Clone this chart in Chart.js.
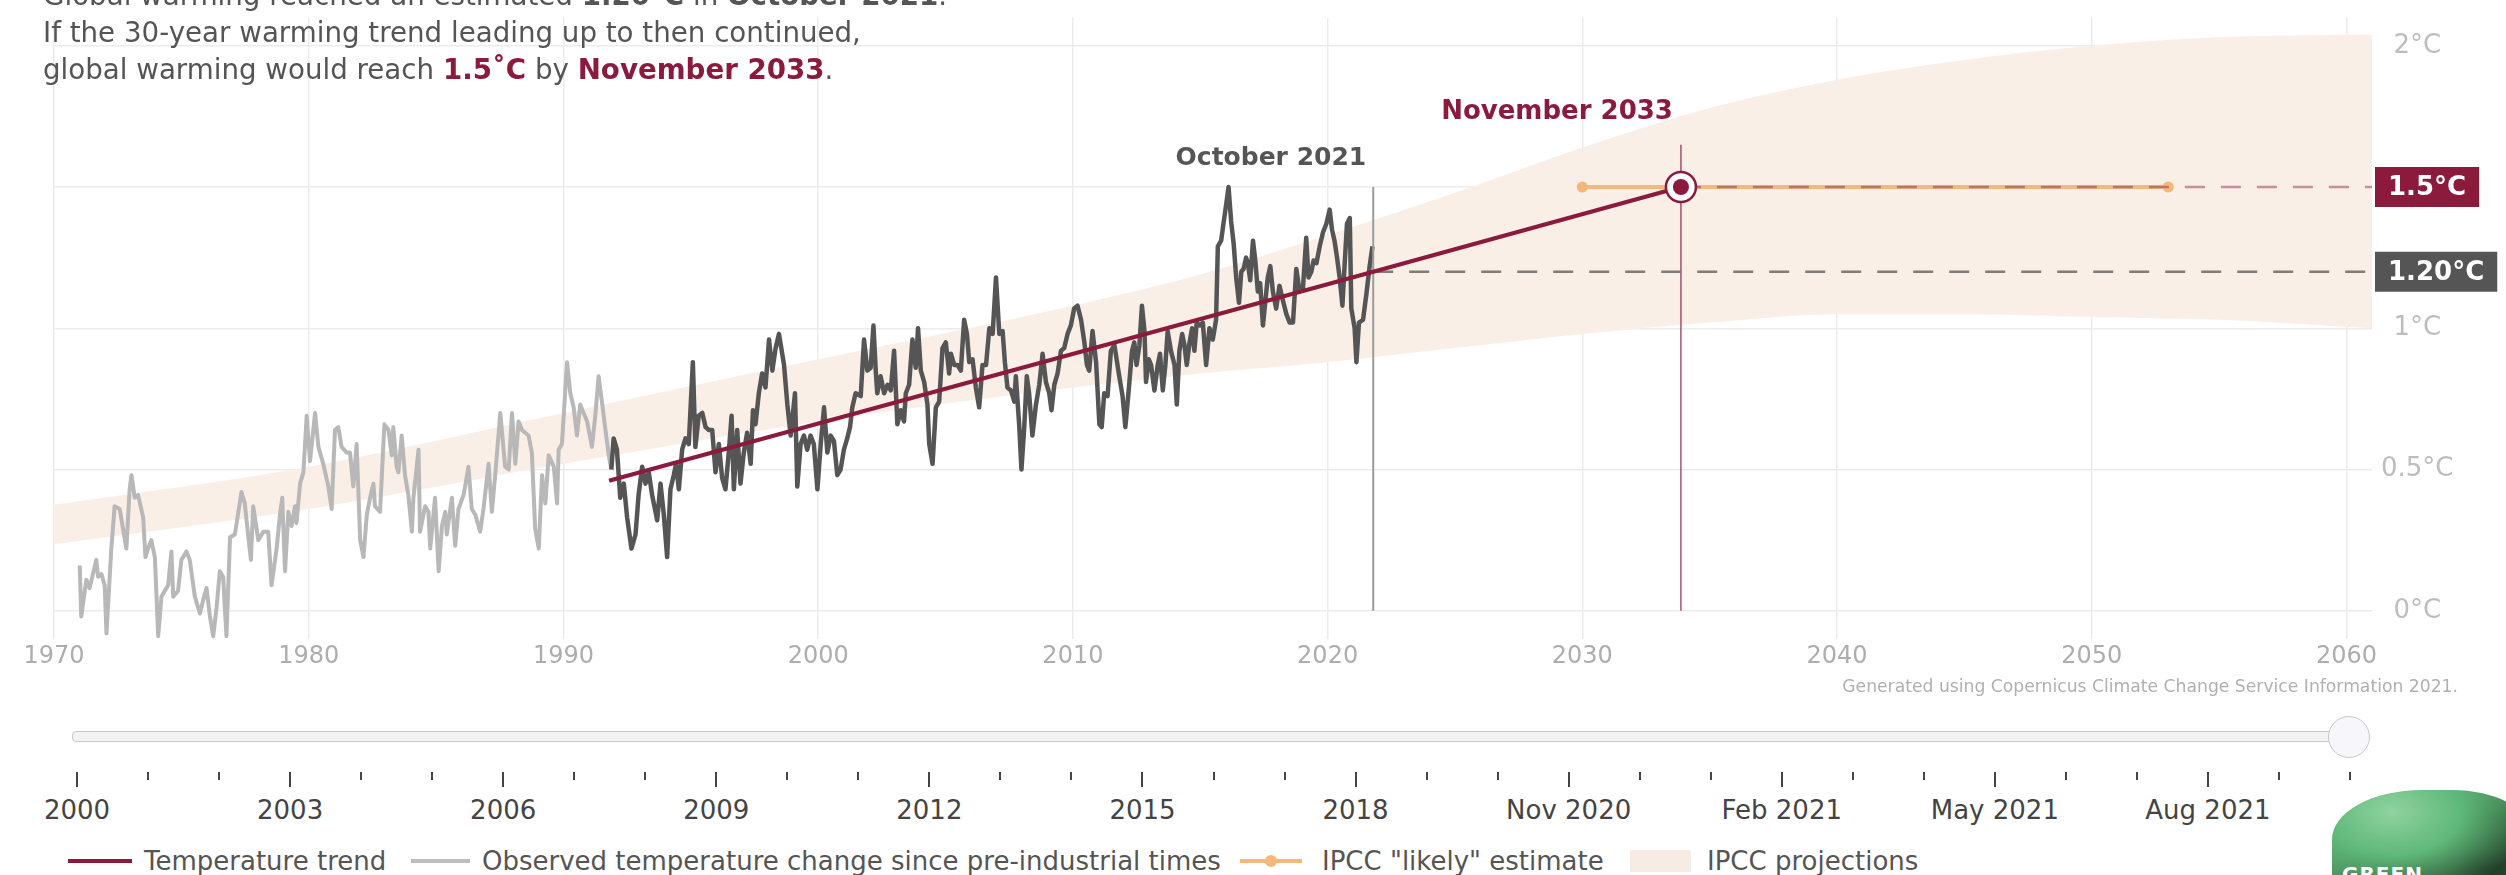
<!DOCTYPE html>
<html>
<head>
<meta charset="utf-8">
<script src="https://cdn.jsdelivr.net/npm/chart.js@4.4.1/dist/chart.umd.min.js"></script>
<style>
html,body{margin:0;padding:0;background:#fff;width:2506px;height:875px;overflow:hidden;font-family:"DejaVu Sans",sans-serif;}
#wrap{position:relative;width:2506px;height:875px;overflow:hidden;}
#c{position:absolute;left:0;top:0;}
.title{position:absolute;left:43px;top:-23px;font-size:27.7px;line-height:37px;color:#555;white-space:nowrap;}
.title b{color:#555;}
.title b.m{color:#8b1a3d;}
.credit{position:absolute;right:48px;top:676px;font-size:17.2px;line-height:21px;color:#b0b0b0;white-space:nowrap;}
.track{position:absolute;left:72px;top:731px;width:2278px;height:9px;background:#f3f3f3;border:1.5px solid #c9c9c9;border-radius:4px;}
.knob{position:absolute;left:2328px;top:716px;width:40px;height:40px;border-radius:50%;background:#f7f7fb;border:1.5px solid #c9c9c9;}
.tick{position:absolute;width:2px;background:#444;}
.slab{position:absolute;top:795px;font-size:26px;line-height:30px;color:#444;white-space:nowrap;transform:translateX(-50%);}
.leg{position:absolute;font-size:26px;line-height:30px;top:846px;color:#555;white-space:nowrap;}
.lline{position:absolute;height:4px;top:859px;}
.logo{position:absolute;left:2332px;top:790px;width:200px;height:110px;border-radius:45% 40% 0 0;
 background:radial-gradient(ellipse at 30% 20%, #8fd3a0 0%, #5fb879 35%, rgba(60,120,70,0) 70%),
            radial-gradient(ellipse at 75% 70%, #1f3b26 0%, #2f5a36 45%, #4f9a62 80%);}
.logo span{position:absolute;left:10px;top:72px;font-weight:bold;font-size:20px;color:#fff;letter-spacing:1px;}
</style>
</head>
<body>
<div id="wrap">
  <canvas id="c" width="2506" height="710"></canvas>
  <div class="title">
    <div>Global warming reached an estimated <b>1.20°C</b> in <b>October 2021</b>.</div>
    <div>If the 30-year warming trend leading up to then continued,</div>
    <div>global warming would reach <b class="m">1.5˚C</b> by <b class="m">November 2033</b>.</div>
  </div>
  <div class="credit">Generated using Copernicus Climate Change Service Information 2021.</div>
  <div class="track"></div>
  <div id="slider"></div>
  <div class="knob"></div>
  <div id="legend"></div>
  <div class="logo"><span>GREEN ALLIANCE</span></div>
</div>
<script>
// ---------- DATA ----------
const xTickYears = [1970,1980,1990,2000,2010,2020,2030,2040,2050,2060];
const yTickTemps = [0,0.5,1,1.5,2];
const xRange = [1970, 2061];
const yRange = [-0.1, 2.1];

// Observed temperature change (monthly, earlier part shown in light grey)
const obsEarlyYears = [1971.01,1971.07,1971.27,1971.40,1971.66,1971.73,1971.86,1971.99,1972.06,1972.25,1972.38,1972.58,1972.71,1972.84,1972.97,1973.04,1973.17,1973.30,1973.50,1973.59,1973.69,1973.82,1973.96,1974.09,1974.22,1974.48,1974.61,1974.68,1974.87,1975.00,1975.20,1975.33,1975.53,1975.73,1975.92,1975.99,1976.12,1976.25,1976.38,1976.51,1976.64,1976.77,1976.91,1977.10,1977.36,1977.49,1977.63,1977.73,1977.82,1978.02,1978.22,1978.41,1978.54,1978.74,1978.87,1978.96,1979.07,1979.20,1979.33,1979.46,1979.52,1979.66,1979.79,1979.92,1980.05,1980.25,1980.38,1980.57,1980.77,1980.90,1981.03,1981.16,1981.29,1981.49,1981.62,1981.75,1981.88,1982.02,1982.15,1982.28,1982.41,1982.54,1982.60,1982.80,1982.97,1983.13,1983.26,1983.32,1983.45,1983.52,1983.65,1983.78,1983.91,1984.05,1984.11,1984.31,1984.37,1984.57,1984.70,1984.77,1984.96,1985.10,1985.23,1985.36,1985.42,1985.62,1985.75,1985.88,1986.08,1986.14,1986.27,1986.40,1986.54,1986.73,1986.86,1987.06,1987.19,1987.32,1987.52,1987.71,1987.85,1987.98,1988.11,1988.24,1988.37,1988.50,1988.63,1988.76,1988.89,1989.03,1989.16,1989.29,1989.42,1989.62,1989.75,1989.81,1989.94,1990.14,1990.27,1990.40,1990.53,1990.66,1990.79,1990.93,1991.12,1991.25,1991.38,1991.51,1991.65,1991.78,1991.88];
const obsEarlyTemps = [0.16,-0.02,0.11,0.08,0.18,0.12,0.13,0.09,-0.08,0.22,0.37,0.36,0.29,0.22,0.43,0.48,0.40,0.41,0.33,0.19,0.22,0.25,0.19,-0.09,0.05,0.09,0.21,0.05,0.07,0.18,0.21,0.18,0.05,-0.01,0.06,0.08,-0.02,-0.09,0.01,0.14,0.12,-0.09,0.26,0.27,0.42,0.38,0.26,0.18,0.37,0.25,0.28,0.28,0.09,0.22,0.34,0.40,0.14,0.35,0.30,0.37,0.31,0.45,0.49,0.69,0.53,0.70,0.58,0.52,0.44,0.36,0.64,0.65,0.58,0.56,0.56,0.44,0.59,0.25,0.19,0.34,0.40,0.45,0.37,0.35,0.66,0.64,0.55,0.65,0.51,0.49,0.62,0.48,0.41,0.28,0.40,0.57,0.28,0.37,0.35,0.22,0.40,0.14,0.30,0.35,0.27,0.40,0.23,0.36,0.41,0.44,0.51,0.36,0.34,0.28,0.36,0.52,0.35,0.48,0.70,0.51,0.50,0.70,0.52,0.67,0.64,0.63,0.62,0.56,0.29,0.22,0.48,0.38,0.55,0.51,0.38,0.57,0.59,0.88,0.77,0.72,0.62,0.73,0.70,0.67,0.58,0.69,0.83,0.74,0.64,0.55,0.50];

// Observed temperature change, last 30 years (dark grey)
const obsRecentYears = [1991.88,1991.97,1992.10,1992.23,1992.37,1992.50,1992.67,1992.83,1992.95,1993.09,1993.22,1993.35,1993.48,1993.68,1993.81,1993.94,1994.07,1994.20,1994.33,1994.42,1994.53,1994.66,1994.79,1994.92,1995.08,1995.18,1995.31,1995.45,1995.58,1995.71,1995.84,1995.97,1996.10,1996.23,1996.36,1996.49,1996.60,1996.69,1996.82,1996.95,1997.08,1997.21,1997.35,1997.44,1997.54,1997.67,1997.80,1997.93,1998.07,1998.20,1998.33,1998.46,1998.66,1998.79,1998.92,1999.09,1999.18,1999.31,1999.44,1999.57,1999.70,1999.83,1999.97,2000.10,2000.23,2000.36,2000.49,2000.62,2000.75,2000.88,2001.01,2001.14,2001.25,2001.34,2001.47,2001.67,2001.80,2001.93,2002.06,2002.17,2002.26,2002.32,2002.45,2002.59,2002.72,2002.85,2002.98,2003.11,2003.24,2003.37,2003.44,2003.57,2003.70,2003.83,2003.92,2004.03,2004.16,2004.29,2004.36,2004.49,2004.62,2004.75,2004.88,2005.01,2005.14,2005.21,2005.34,2005.47,2005.60,2005.73,2005.84,2005.93,2006.06,2006.19,2006.32,2006.45,2006.59,2006.72,2006.85,2006.98,2007.11,2007.24,2007.33,2007.43,2007.57,2007.70,2007.76,2007.89,2007.98,2008.09,2008.19,2008.28,2008.41,2008.55,2008.68,2008.81,2008.94,2009.07,2009.16,2009.27,2009.40,2009.53,2009.66,2009.79,2009.92,2010.05,2010.18,2010.32,2010.45,2010.55,2010.64,2010.77,2010.91,2011.04,2011.13,2011.23,2011.36,2011.49,2011.63,2011.82,2011.95,2012.06,2012.19,2012.32,2012.41,2012.50,2012.61,2012.71,2012.81,2012.87,2012.98,2013.07,2013.20,2013.33,2013.42,2013.53,2013.63,2013.72,2013.85,2013.99,2014.08,2014.18,2014.29,2014.38,2014.47,2014.58,2014.68,2014.77,2014.86,2014.97,2015.10,2015.23,2015.36,2015.49,2015.62,2015.69,2015.82,2015.91,2016.02,2016.11,2016.21,2016.31,2016.41,2016.52,2016.61,2016.70,2016.80,2016.87,2016.96,2017.07,2017.16,2017.26,2017.35,2017.46,2017.56,2017.65,2017.75,2017.85,2017.98,2018.11,2018.24,2018.38,2018.51,2018.64,2018.77,2018.90,2019.03,2019.16,2019.25,2019.36,2019.45,2019.56,2019.69,2019.82,2019.95,2020.08,2020.17,2020.27,2020.37,2020.47,2020.58,2020.67,2020.76,2020.87,2020.93,2021.06,2021.13,2021.23,2021.39,2021.52,2021.65,2021.76];
const obsRecentTemps = [0.50,0.61,0.57,0.40,0.45,0.33,0.22,0.27,0.41,0.51,0.45,0.49,0.41,0.32,0.45,0.34,0.19,0.43,0.48,0.52,0.43,0.57,0.61,0.59,0.88,0.58,0.69,0.70,0.65,0.64,0.64,0.49,0.59,0.47,0.43,0.56,0.69,0.43,0.64,0.45,0.56,0.63,0.52,0.71,0.66,0.77,0.84,0.79,0.96,0.85,0.93,0.98,0.87,0.73,0.62,0.77,0.44,0.59,0.62,0.57,0.62,0.59,0.43,0.59,0.72,0.56,0.62,0.60,0.48,0.50,0.57,0.61,0.65,0.72,0.77,0.76,0.96,0.85,0.86,1.01,0.85,0.77,0.83,0.77,0.80,0.78,0.92,0.66,0.71,0.67,0.77,0.80,0.96,0.86,1.00,0.85,0.81,0.73,0.59,0.52,0.72,0.74,0.93,0.95,0.84,0.91,0.87,0.87,0.85,1.03,0.98,0.88,0.89,0.79,0.72,0.87,0.87,1.00,0.98,1.18,0.98,0.99,0.88,0.79,0.78,0.74,0.83,0.66,0.50,0.65,0.83,0.77,0.62,0.73,0.80,0.91,0.81,0.77,0.71,0.80,0.84,0.92,0.93,0.98,1.01,1.07,1.08,1.03,0.95,0.87,0.85,0.99,0.88,0.66,0.65,0.77,0.76,0.92,0.94,0.83,0.76,0.65,0.78,0.92,0.95,0.87,0.94,1.08,0.99,0.81,0.89,0.87,0.78,0.87,0.91,0.78,0.87,0.99,0.92,0.87,0.73,0.92,0.98,0.94,0.87,0.95,1.00,0.92,1.02,1.01,1.02,0.87,1.00,0.96,1.03,1.29,1.31,1.37,1.44,1.50,1.38,1.30,1.18,1.09,1.20,1.21,1.25,1.23,1.17,1.31,1.24,1.13,1.16,1.01,1.10,1.18,1.22,1.13,1.07,1.15,1.10,1.05,1.02,1.02,1.21,1.13,1.14,1.32,1.18,1.20,1.24,1.23,1.29,1.34,1.37,1.42,1.35,1.31,1.25,1.18,1.08,1.23,1.37,1.39,1.07,1.00,0.88,1.02,1.03,1.12,1.22,1.29];

// 30-year linear warming trend, extended to 1.5°C
const trendYears = [1991.79, 2021.79, 2033.87];
const trendTemps = [0.46, 1.20, 1.50];

// Milestones: October 2021 (1.20°C) and November 2033 (1.5°C)
const milestoneYears = [2021.79, 2033.87];
const milestoneTemps = [1.20, 1.50];
const milestoneNames = ['October 2021', 'November 2033'];
const milestoneLineTops = [1.5, 1.65];
const milestoneLabelTemps = [1.60, 1.765];
const badgeTexts = ['1.20°C', '1.5°C'];

// IPCC "likely" estimate range for reaching 1.5°C
const likelyYears = [2030, 2053];
const likelyTemps = [1.5, 1.5];

// IPCC projections band
const bandYears = [1970,1980,1990,2000,2010,2015,2020,2025,2030,2035,2040,2045,2050,2055,2061];
const bandLow  = [0.235,0.36,0.52,0.67,0.79,0.84,0.88,0.93,0.98,1.02,1.05,1.05,1.04,1.03,1.00];
const bandHigh = [0.375,0.51,0.70,0.89,1.08,1.19,1.33,1.48,1.64,1.78,1.88,1.95,2.00,2.03,2.04];

// Time slider labels
const sliderLabels = ['2000','2003','2006','2009','2012','2015','2018','Nov 2020','Feb 2021','May 2021','Aug 2021'];

const legendItems = ['Temperature trend','Observed temperature change since pre-industrial times','IPCC "likely" estimate','IPCC projections'];

// ---------- STYLE ----------
const MAROON = '#8b1a3d', DARK = '#555555', LIGHT = '#b8b8b8', ORANGE = '#f4b87a', BAND = '#f9efe7', GRID = '#ececec';
const FONT = '"DejaVu Sans", sans-serif';

const pts = (xs, ys) => xs.map((x, i) => ({x, y: ys[i]}));

const datasets = [
  {data: pts(bandYears, bandLow), borderWidth: 0, borderColor: 'rgba(0,0,0,0)', fill: false, cubicInterpolationMode: 'monotone', order: 100},
  {data: pts(bandYears, bandHigh), borderWidth: 0, borderColor: 'rgba(0,0,0,0)', backgroundColor: BAND, fill: '-1', cubicInterpolationMode: 'monotone', order: 100},
  {data: pts(obsEarlyYears, obsEarlyTemps), borderColor: LIGHT, borderWidth: 4, order: 50},
  {data: pts(obsRecentYears, obsRecentTemps), borderColor: DARK, borderWidth: 4.5, order: 40},
  {data: pts([milestoneYears[0], milestoneYears[0]], [0, milestoneLineTops[0]]), borderColor: '#9b9b9b', borderWidth: 2, order: 30},
  {data: pts([milestoneYears[1], milestoneYears[1]], [0, milestoneLineTops[1]]), borderColor: 'rgba(139,26,61,0.75)', borderWidth: 1.5, order: 30},
  {data: pts([milestoneYears[0], xRange[1]], [milestoneTemps[0], milestoneTemps[0]]), borderColor: '#7d7d7d', borderWidth: 2.5, borderDash: [20, 16], order: 25},
  {data: pts(likelyYears, likelyTemps), borderColor: ORANGE, borderWidth: 4, pointRadius: 5.5, pointBackgroundColor: ORANGE, pointBorderWidth: 0, order: 20},
  {data: pts([milestoneYears[1], xRange[1]], [milestoneTemps[1], milestoneTemps[1]]), borderColor: 'rgba(139,26,61,0.45)', borderWidth: 2.5, borderDash: [20, 16], order: 15},
  {data: pts(trendYears, trendTemps), borderColor: MAROON, borderWidth: 4, order: 10},
  {data: pts([milestoneYears[1]], [milestoneTemps[1]]), showLine: false, pointRadius: 15, pointBackgroundColor: '#fff', pointBorderColor: MAROON, pointBorderWidth: 2.5, order: 2},
  {data: pts([milestoneYears[1]], [milestoneTemps[1]]), showLine: false, pointRadius: 8, pointBackgroundColor: MAROON, pointBorderWidth: 0, order: 1}
];

const annotations = {
  id: 'annotations',
  afterDatasetsDraw(chart) {
    const {ctx, scales: {x, y}, chartArea} = chart;
    ctx.save();
    ctx.textBaseline = 'middle';
    // milestone labels
    ctx.textAlign = 'right';
    ctx.font = 'bold 25px ' + FONT;
    ctx.fillStyle = DARK;
    ctx.fillText(milestoneNames[0], x.getPixelForValue(milestoneYears[0]) - 7, y.getPixelForValue(milestoneLabelTemps[0]));
    ctx.font = 'bold 26px ' + FONT;
    ctx.fillStyle = MAROON;
    ctx.fillText(milestoneNames[1], x.getPixelForValue(milestoneYears[1]) - 8, y.getPixelForValue(milestoneLabelTemps[1]));
    // badges
    const colors = [DARK, MAROON];
    ctx.font = 'bold 26px ' + FONT;
    ctx.textAlign = 'left';
    milestoneTemps.forEach((t, i) => {
      const cy = y.getPixelForValue(t);
      const w = ctx.measureText(badgeTexts[i]).width + 26;
      ctx.fillStyle = colors[i];
      ctx.fillRect(chartArea.right + 3, cy - 20, w, 40);
      ctx.fillStyle = '#fff';
      ctx.fillText(badgeTexts[i], chartArea.right + 16, cy + 1);
    });
    ctx.restore();
  }
};

new Chart(document.getElementById('c'), {
  type: 'line',
  data: {datasets},
  options: {
    responsive: false,
    animation: false,
    events: [],
    layout: {padding: {left: 54, right: 44, top: 7, bottom: 0}},
    elements: {point: {radius: 0, hoverRadius: 0}, line: {tension: 0, borderJoinStyle: 'round', borderCapStyle: 'butt'}},
    plugins: {legend: {display: false}, tooltip: {enabled: false}},
    scales: {
      x: {
        type: 'linear', min: xRange[0], max: xRange[1],
        border: {display: false},
        grid: {color: GRID, lineWidth: 1.5, drawTicks: false},
        ticks: {color: '#adadad', font: {family: FONT, size: 24}, padding: 3, maxRotation: 0, autoSkip: false, callback: v => String(v)},
        afterBuildTicks: s => { s.ticks = xTickYears.map(v => ({value: v})); },
        afterFit: s => { s.height = 71; s.paddingLeft = 0; s.paddingRight = 0; }
      },
      y: {
        type: 'linear', position: 'right', min: yRange[0], max: yRange[1],
        border: {display: false},
        grid: {color: GRID, lineWidth: 1.5, drawTicks: false},
        ticks: {color: '#bdbdbd', font: {family: FONT, size: 26}, padding: 9, crossAlign: 'center', callback: v => v + '°C'},
        afterBuildTicks: s => { s.ticks = yTickTemps.map(v => ({value: v})); },
        afterFit: s => { s.width = 90; s.paddingTop = 0; s.paddingBottom = 0; }
      }
    }
  },
  plugins: [annotations]
});

// ---------- slider (time selector) ----------
const slider = document.getElementById('slider');
const tickCount = 33, tickX0 = 77, tickStep = (2350 - 77) / 32;
for (let i = 0; i < tickCount; i++) {
  const major = i % 3 === 0;
  const t = document.createElement('div');
  t.className = 'tick';
  t.style.left = (tickX0 + i * tickStep - 1) + 'px';
  t.style.top = '772px';
  t.style.height = (major ? 15 : 8) + 'px';
  slider.appendChild(t);
  if (major && sliderLabels[i / 3] !== undefined) {
    const l = document.createElement('div');
    l.className = 'slab';
    l.style.left = (tickX0 + i * tickStep) + 'px';
    l.textContent = sliderLabels[i / 3];
    slider.appendChild(l);
  }
}

// ---------- legend ----------
const legend = document.getElementById('legend');
const legendX = [144, 482, 1322, 1707];
const addEl = (cls, css, txt) => { const d = document.createElement('div'); d.className = cls; Object.assign(d.style, css); if (txt) d.textContent = txt; legend.appendChild(d); };
addEl('lline', {left: '68px', width: '64px', background: MAROON});
addEl('lline', {left: '411px', width: '59px', background: '#bdbdbd'});
addEl('lline', {left: '1240px', width: '62px', background: ORANGE});
addEl('lline', {left: '1265px', width: '12px', height: '12px', top: '855px', borderRadius: '50%', background: ORANGE});
addEl('lline', {left: '1630px', width: '61px', height: '22px', top: '850px', background: '#f6ece3'});
legendItems.forEach((txt, i) => addEl('leg', {left: legendX[i] + 'px'}, txt));
</script>
</body>
</html>
